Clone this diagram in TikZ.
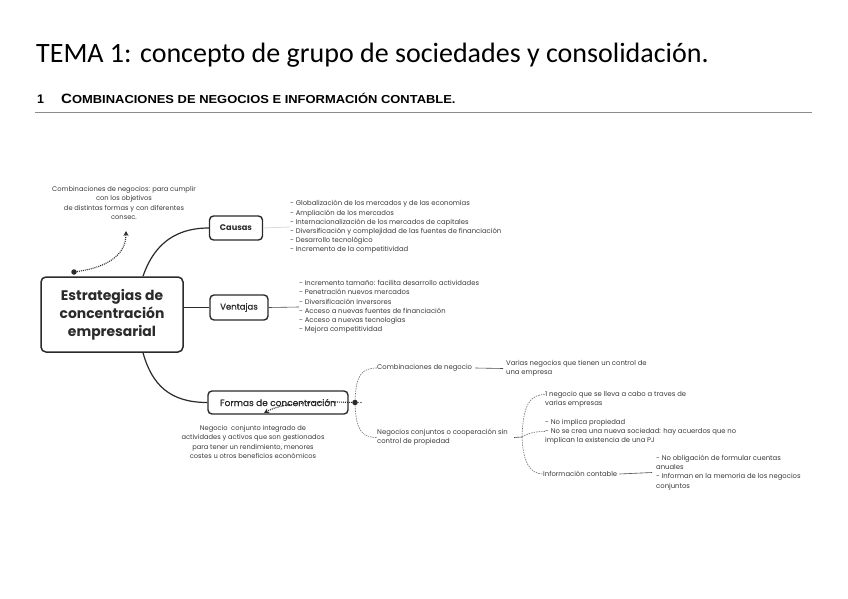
\documentclass[tikz,border=0pt]{standalone}
\usepackage{fontspec}
\usepackage{graphicx}
\setmainfont{Carlito}
\newfontfamily\pop{Poppins}
\newfontfamily\popmed[FakeBold=0.7]{Poppins}
\newfontfamily\lib{Liberation Sans}
\usetikzlibrary{arrows.meta,calc}
\definecolor{ink}{HTML}{2B2B2B}
\definecolor{txt}{HTML}{3A3A3A}
\tikzset{
  mapbox/.style={draw=ink, line width=1.4pt, rounded corners=4pt, fill=white, inner sep=0pt, text=ink},
  small/.style={font=\pop\fontsize{6.85}{9.2}\selectfont, text=txt, align=left, inner sep=0pt},
  smallc/.style={font=\pop\fontsize{6.7}{9.2}\selectfont, text=txt, align=center, inner sep=0pt},
  conn/.style={draw=ink, line width=1.2pt},
  thin/.style={draw=black!70, line width=0.6pt},
  dashc/.style={draw=black!55, line width=0.6pt, dash pattern=on 1.5pt off 1pt},
  dotarrow/.style={draw=ink, line width=1.1pt, dash pattern=on 1pt off 1pt, -{Stealth[length=5pt,width=5pt]}},
  dotnode/.style={circle, fill=ink, inner sep=0pt, minimum size=5.5pt}
}
\begin{document}
\begin{tikzpicture}[x=1pt,y=-1pt]
\useasboundingbox[fill=white] (0,0) rectangle (848,599);

% title and heading
\node[anchor=base west, inner sep=0pt, font=\fontsize{28}{32}\selectfont] (title) at (36,63) {TEMA 1: concepto de grupo de sociedades y consolidación.};
\node[anchor=base west, inner sep=0pt, font=\lib\bfseries\fontsize{12.5}{14}\selectfont] (hnum) at (37,104) {1};
\node[anchor=base west, inner sep=0pt, font=\lib\bfseries\fontsize{11.6}{14}\selectfont] (htext) at (61,104) {\scalebox{1.115}[1]{{\fontsize{13.5}{14}\selectfont C}OMBINACIONES DE NEGOCIOS E INFORMACIÓN CONTABLE.}};
\draw[draw=black!45, line width=0.6pt] (35,112.5) -- (812,112.5);

% main nodes
\node[mapbox, line width=1.5pt, rounded corners=5pt, minimum width=142pt, minimum height=75pt, align=center, font=\pop\bfseries\fontsize{13.9}{18}\selectfont] (central) at (112,314.5) {Estrategias de\\concentración\\empresarial};
\node[mapbox, minimum width=53pt, minimum height=24pt, font=\pop\bfseries\fontsize{8.2}{10}\selectfont] (causas) at (236,228) {Causas};
\node[mapbox, minimum width=58pt, minimum height=25pt, font=\popmed\fontsize{8.5}{10}\selectfont] (ventajas) at (239,307.5) {Ventajas};
\node[mapbox, minimum width=140pt, minimum height=23pt, font=\popmed\fontsize{9}{10}\selectfont] (formas) at (278,402.5) {Formas de concentración};

% connectors from center
\draw[conn] ($(central.north)+(31,0)$) .. controls (152,250) and (170,228) .. (causas.west);
\draw[conn] (ventajas.west -| central.east) -- (ventajas.west);
\draw[conn] ($(central.south)+(31,0)$) .. controls (152,385) and (170,402.5) .. (formas.west);

% lists
\node[small, anchor=west] (causlist) at (290,227) {- Globalización de los mercados y de las economías\\- Ampliación de los mercados\\- Internacionalización de los mercados de capitales\\- Diversificación y complejidad de las fuentes de financiación\\- Desarrollo tecnológico\\- Incremento de la competitividad};
\draw[draw=black!15, line width=0.8pt] (causas.east) -- (causlist.west);

\node[small, anchor=west] (ventlist) at (299,307) {- Incremento tamaño: facilita desarrollo actividades\\- Penetración nuevos mercados\\- Diversificación inversores\\- Acceso a nuevas fuentes de financiación\\- Acceso a nuevas tecnologías\\- Mejora competitividad};
\draw[thin] (ventajas.east) -- (ventlist.west);

% annotations
\node[smallc] (ann1) at (124,203) {Combinaciones de negocios: para cumplir\\con los objetivos\\de distintas formas y con diferentes\\consec.};
\node[dotnode] (dot1) at (74,272) {};
\coordinate (tip1) at (126,231);
\draw[dotarrow] (dot1) .. controls (102,268) and (126,258) .. (tip1);

\node[smallc] (ann2) at (253,442) {Negocio\ \ conjunto integrado de\\actividades y activos que son gestionados\\para tener un rendimiento, menores\\costes u otros beneficios económicos};
\node[dotnode] (dot2) at (355,402.5) {};
\coordinate (tip2) at (264,413);
\draw[dotarrow] (dot2) -- (336,402) .. controls (305,402) and (280,404) .. (tip2);
\coordinate (tick) at (362,402.5);
\draw[dashc] (dot2) -- (tick);

% forms of concentration branch
\node[small, anchor=west] (comb) at (377,368) {Combinaciones de negocio};
\node[small, anchor=west] (varias) at (506,368.5) {Varias negocios que tienen un control de\\una empresa};
\node[small, anchor=west] (negc) at (377,437.5) {Negocios conjuntos o cooperación sin\\control de propiedad};
\draw[dashc] (dot2) .. controls (356,375) and (362,368) .. (comb.west);
\draw[dashc] (dot2) .. controls (356,430) and (362,437.5) .. (negc.west);
\draw[thin] ($(comb.east)+(3,0)$) -- ($(varias.west)+(-3,0)$);

\coordinate (j2) at (522,437);
\draw[thin] ($(negc.east)+(6,0)$) -- (j2);

\node[small, anchor=west] (n1) at (545,399) {1 negocio que se lleva a cabo a traves de\\varias empresas};
\node[small, anchor=west] (n2) at (545,431.5) {- No implica propiedad\\- No se crea una nueva sociedad: hay acuerdos que no\\implican la existencia de una PJ};
\node[small, anchor=west] (info) at (543,474) {Información contable};
\node[small, anchor=west] (infolist) at (656,472.5) {- No obligación de formular cuentas\\anuales\\- Informan en la memoria de los negocios\\conjuntos};
\draw[dashc] (j2) .. controls (523,405) and (530,394.5) .. ($(n1.west)+(0,-4.5)$);
\draw[dashc] (j2) .. controls (528,433) and (535,431.5) .. (n2.west);
\draw[dashc] (j2) .. controls (523,462) and (530,474) .. (info.west);
\draw[thin] ($(info.east)+(2,0)$) -- ($(infolist.west)+(-4,0)$);
\end{tikzpicture}
\end{document}
